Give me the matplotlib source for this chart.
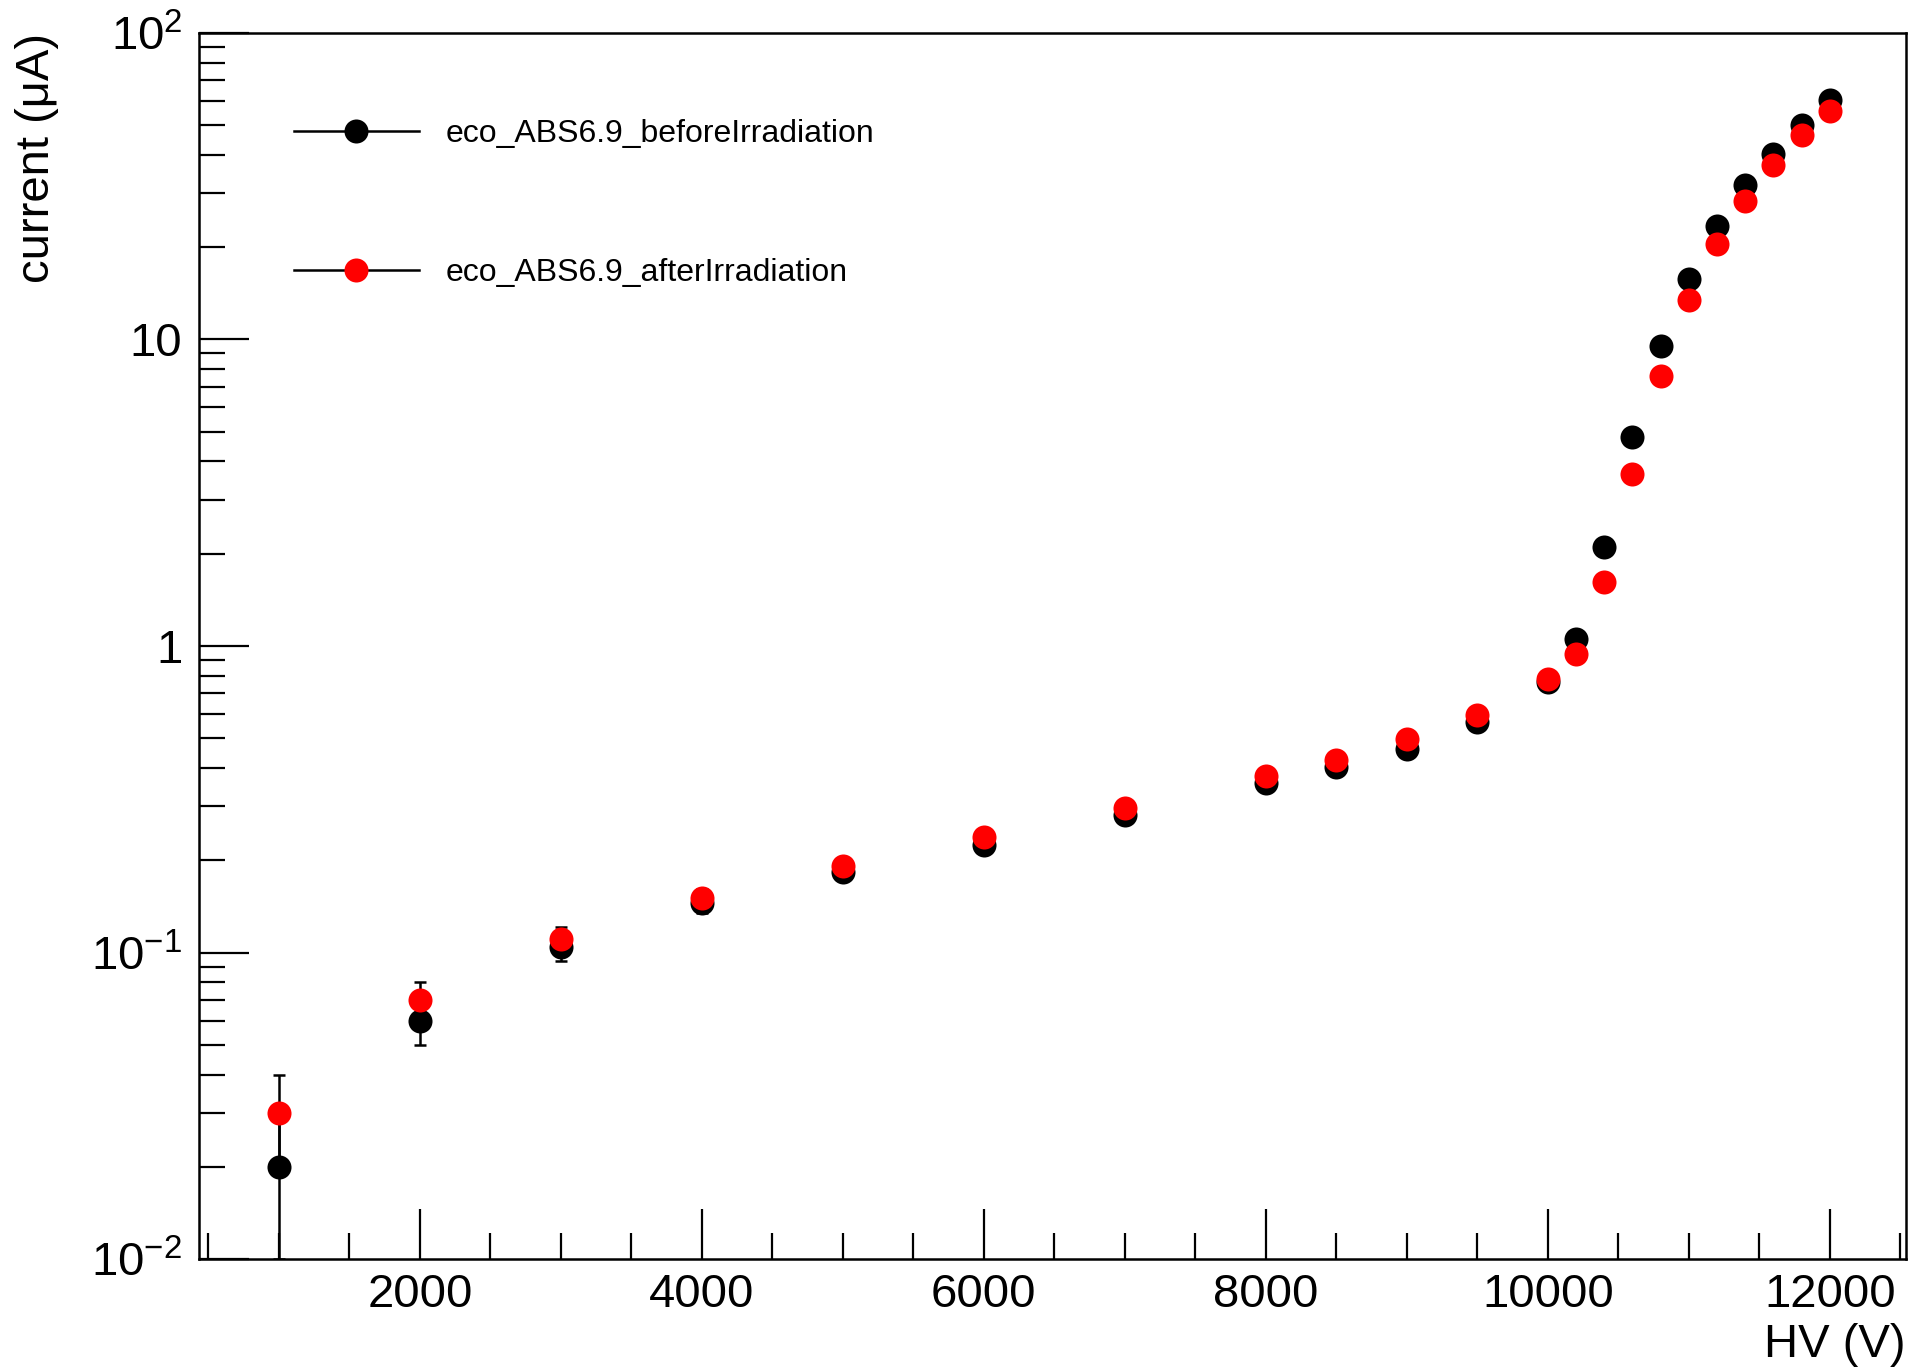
import numpy as np
import matplotlib
matplotlib.use('Agg')
import matplotlib.pyplot as plt
from matplotlib.lines import Line2D
from matplotlib.ticker import FixedLocator, MultipleLocator, LogLocator, NullFormatter

plt.rcParams['font.family'] = ['Liberation Sans', 'DejaVu Sans']
plt.rcParams['mathtext.fontset'] = 'custom'
plt.rcParams['mathtext.rm'] = 'Liberation Sans'
plt.rcParams['mathtext.default'] = 'rm'

# HV scan (V) and measured current (uA)
hv = [1000, 2000, 3000, 4000, 5000, 6000, 7000, 8000, 8500, 9000, 9500,
      10000, 10200, 10400, 10600, 10800, 11000, 11200, 11400, 11600, 11800, 12000]
cur_before = [0.02, 0.06, 0.104, 0.145, 0.183, 0.225, 0.281, 0.357, 0.402, 0.461, 0.564,
              0.764, 1.05, 2.11, 4.82, 9.49, 15.7, 23.5, 31.8, 40.4, 50.2, 60.4]
cur_after = [0.03, 0.07, 0.111, 0.151, 0.191, 0.238, 0.297, 0.377, 0.425, 0.496, 0.596,
             0.778, 0.942, 1.62, 3.63, 7.62, 13.4, 20.5, 28.2, 37.2, 46.3, 55.6]
err_before = [0.01, 0.01, 0.01, 0.01, 0.01, 0.01, 0.01, 0.01, 0.01, 0.01, 0.01,
              0.01, 0.01, 0.01, 0.01, 0.01, 0.01, 0.01, 0.01, 0.01, 0.01, 0.01]
err_after = [0.01, 0.01, 0.01, 0.01, 0.01, 0.01, 0.01, 0.01, 0.01, 0.01, 0.01,
             0.01, 0.01, 0.01, 0.01, 0.01, 0.01, 0.01, 0.01, 0.01, 0.01, 0.01]

label_before = 'eco_ABS6.9_beforeIrradiation'
label_after = 'eco_ABS6.9_afterIrradiation'

fig = plt.figure(figsize=(19.13, 13.69), dpi=100)
ax = fig.add_axes([0.104, 0.0803, 0.8923, 0.8957])

ax.errorbar(hv, cur_before, yerr=err_before, fmt='none', ecolor='black',
            elinewidth=1.8, capsize=4, capthick=1.8, zorder=2)
ax.errorbar(hv, cur_after, yerr=err_after, fmt='none', ecolor='black',
            elinewidth=1.8, capsize=4, capthick=1.8, zorder=3)
ax.plot(hv, cur_before, linestyle='none', marker='o', markersize=17.3,
        color='black', markeredgewidth=0, zorder=4)
ax.plot(hv, cur_after, linestyle='none', marker='o', markersize=17.3,
        color='red', markeredgewidth=0, zorder=5)

ax.set_yscale('log')
ax.set_xlim(433, 12540)
ax.set_ylim(0.01, 100)

ax.xaxis.set_major_locator(MultipleLocator(2000))
ax.xaxis.set_minor_locator(MultipleLocator(500))
ax.yaxis.set_major_locator(FixedLocator([0.01, 0.1, 1, 10, 100]))
ax.yaxis.set_minor_locator(LogLocator(base=10, subs=np.arange(2, 10)))
ax.yaxis.set_minor_formatter(NullFormatter())
ax.set_yticklabels(['$10^{-2}$', '$10^{-1}$', '1', '10', '$10^{2}$'])

ax.tick_params(axis='both', which='major', direction='in', length=36, width=1.6,
               labelsize=34, top=False, right=False)
ax.tick_params(axis='both', which='minor', direction='in', length=19, width=1.6,
               top=False, right=False)
ax.tick_params(axis='x', which='major', pad=10)
ax.tick_params(axis='y', which='major', pad=12)
for s in ax.spines.values():
    s.set_linewidth(1.8)

ax.set_xlabel('HV (V)', fontsize=34, loc='right')
ax.xaxis.set_label_coords(1.0, -0.052)
ax.set_ylabel('current (μA)', fontsize=34, loc='top')
ax.yaxis.set_label_coords(-0.082, 1.0)

handles = [
    Line2D([], [], color='black', linewidth=1.8, marker='o', markersize=17.3,
           markerfacecolor='black', markeredgewidth=0),
    Line2D([], [], color='black', linewidth=1.8, marker='o', markersize=17.3,
           markerfacecolor='red', markeredgewidth=0),
]
ax.legend(handles, [label_before, label_after], loc='upper left',
          bbox_to_anchor=(0.0557, 0.930), frameon=False, fontsize=23,
          handlelength=3.9, handletextpad=0.85, labelspacing=3.43,
          borderpad=0, borderaxespad=0)

fig.savefig('out.png', dpi=100)
